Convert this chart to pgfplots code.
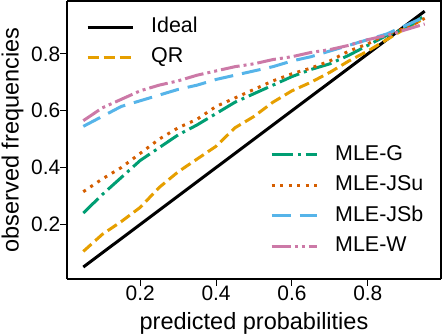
\documentclass[border=0pt]{standalone}
\usepackage{fontspec}
\setmainfont{Liberation Sans}
\usepackage{pgfplots}
\pgfplotsset{compat=1.18}

\definecolor{cgreen}{HTML}{009E73}
\definecolor{cverm}{HTML}{D55E00}
\definecolor{corange}{HTML}{E69F00}
\definecolor{csky}{HTML}{56B4E9}
\definecolor{cpink}{HTML}{CC79A7}

\pgfplotstableread{
x     ideal  qr     g      jsu    jsb    w
0.05  0.05   0.105  0.24   0.315  0.545  0.565
0.10  0.10   0.165  0.305  0.36   0.58   0.61
0.15  0.15   0.21   0.365  0.40   0.615  0.64
0.20  0.20   0.26   0.425  0.45   0.635  0.67
0.25  0.25   0.33   0.47   0.50   0.655  0.69
0.30  0.30   0.385  0.515  0.54   0.675  0.705
0.35  0.35   0.43   0.55   0.57   0.69   0.725
0.40  0.40   0.475  0.59   0.615  0.71   0.74
0.45  0.45   0.54   0.63   0.645  0.725  0.755
0.50  0.50   0.58   0.66   0.675  0.74   0.765
0.55  0.55   0.63   0.69   0.705  0.755  0.78
0.60  0.60   0.67   0.72   0.73   0.775  0.79
0.65  0.65   0.70   0.745  0.75   0.79   0.805
0.70  0.70   0.735  0.765  0.775  0.81   0.815
0.75  0.75   0.775  0.795  0.81   0.83   0.83
0.80  0.80   0.81   0.83   0.835  0.85   0.85
0.85  0.85   0.85   0.865  0.87   0.87   0.865
0.90  0.90   0.89   0.89   0.89   0.90   0.885
0.95  0.95   0.925  0.935  0.925  0.93   0.905
}\calib

\pgfplotsset{
  common/.style={
    scale only axis,
    width=374bp, height=278bp,
    xmin=0.007, xmax=0.993,
    ymin=0.008, ymax=0.986,
  },
  leg/.style={draw=none, fill=none, inner sep=0pt,
    font=\fontsize{21.5}{26}\selectfont,
    nodes={inner sep=0pt, text height=15.5bp, text depth=4.5bp},
    /tikz/every odd column/.append style={column sep=17bp}},
  lideal/.style={black, line width=3bp},
  lqr/.style={corange, line width=3bp, dash pattern=on 11bp off 5bp},
  lg/.style={cgreen, line width=3bp, dash pattern=on 21bp off 5bp on 3bp off 5bp},
  ljsu/.style={cverm, line width=3bp, dash pattern=on 3bp off 5.5bp},
  ljsb/.style={csky, line width=3bp, dash pattern=on 19bp off 9bp},
  lw/.style={cpink, line width=3bp, dash pattern=on 19bp off 4bp on 3bp off 4bp on 3bp off 4bp},
}

\begin{document}
\begin{tikzpicture}
\useasboundingbox (-67bp,-57bp) rectangle (375bp,279bp);
\begin{axis}[
    common,
    axis x line*=bottom, axis y line*=left,
    every outer x axis line/.append style={line width=1.3bp},
    every outer y axis line/.append style={line width=1.3bp},
    xtick={0.2,0.4,0.6,0.8}, ytick={0.2,0.4,0.6,0.8},
    xticklabels={0.2,0.4,0.6,0.8}, yticklabels={0.2,0.4,0.6,0.8},
    tick align=outside, major tick length=6.5bp,
    tick style={black, line width=1bp},
    ticklabel style={font=\fontsize{21}{25}\selectfont, inner sep=0pt},
    xlabel={predicted probabilities}, ylabel={observed frequencies},
    label style={font=\fontsize{23.6}{28}\selectfont},
    xlabel style={at={(axis description cs:0.5,-0.18)}, anchor=base},
    ylabel style={at={(axis description cs:-0.1295,0.5)}, anchor=base},
    legend style={leg, row sep=10bp, at={(axis description cs:0.0508,0.9417)}, anchor=north west},
    legend cell align=left,
    legend image code/.code={\draw[#1] (0bp,0bp) -- (45bp,0bp);},
]
\addplot[lideal] table[x=x, y=ideal] {\calib};
\addlegendentry{Ideal}
\addplot[lqr] table[x=x, y=qr] {\calib};
\addlegendentry{QR}
\addplot[lg, forget plot] table[x=x, y=g] {\calib};
\addplot[ljsu, forget plot] table[x=x, y=jsu] {\calib};
\addplot[ljsb, forget plot] table[x=x, y=jsb] {\calib};
\addplot[lw, forget plot] table[x=x, y=w] {\calib};
\end{axis}
\draw[line width=1.3bp] (0,278bp) -- (374bp,278bp) -- (374bp,0);
\begin{axis}[
    common, hide axis,
    legend style={leg, row sep=10.5bp, at={(axis description cs:0.5428,0.082)}, anchor=south west},
    legend cell align=left,
    legend image code/.code={\draw[#1] (0bp,0bp) -- (45bp,0bp);},
]
\addlegendimage{lg}
\addlegendentry{MLE-G}
\addlegendimage{ljsu}
\addlegendentry{MLE-JSu}
\addlegendimage{ljsb}
\addlegendentry{MLE-JSb}
\addlegendimage{lw}
\addlegendentry{MLE-W}
\end{axis}
\end{tikzpicture}
\end{document}
